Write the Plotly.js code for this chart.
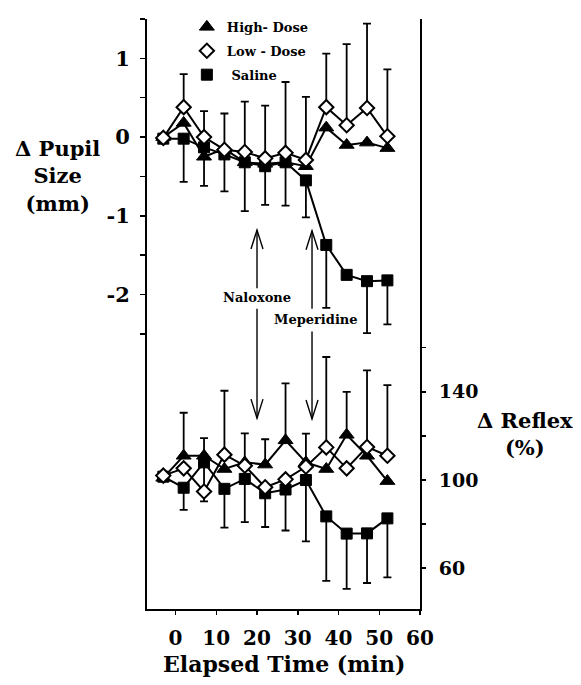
<!DOCTYPE html>
<html>
<head>
<meta charset="utf-8">
<script src="https://cdn.plot.ly/plotly-3.0.1.min.js"></script>
<style>html,body{margin:0;padding:0;background:#fff;}#chart{width:581px;height:685px;}</style>
</head>
<body>
<div id="chart"></div>
<script>
// ---- data ----
var times = [-3, 2, 7, 12, 17, 22, 27, 32, 37, 42, 47, 52];

// Delta pupil size (mm)
var pupilHigh   = [0.00, 0.18, -0.25, -0.15, -0.32, -0.34, -0.32, -0.37, 0.12, -0.10, -0.07, -0.14];
var pupilLow    = [-0.01, 0.38, 0.00, -0.16, -0.19, -0.27, -0.20, -0.29, 0.38, 0.15, 0.37, 0.01];
var pupilSaline = [-0.02, -0.02, -0.13, -0.22, -0.32, -0.37, -0.32, -0.55, -1.37, -1.75, -1.83, -1.82];
var pupilLowErrUp      = [null, 0.42, 0.33, 0.46, 0.64, 0.67, 0.90, 0.80, 0.68, 1.03, 1.07, 0.85];
var pupilSalineErrDown = [null, 0.55, 0.49, 0.47, 0.62, 0.49, 0.55, 0.47, 0.80, null, 0.66, 0.56];

// Delta reflex (%)
var reflexHigh   = [101, 111, 111, 105, 108, 107, 118, 108, 105, 120.5, 111, 99.5];
var reflexLow    = [102, 105.3, 94.8, 111.5, 106.5, 96.7, 100.3, 106, 114.8, 105.3, 115, 111];
var reflexSaline = [101.5, 96.5, 108, 96, 100.5, 94, 95.7, 100, 83.5, 75.7, 75.8, 82.6];
var reflexHighErrUp     = [null, 19.5, 8, null, null, 11.5, 25.8, null, null, 19.5, null, null];
var reflexLowErrUp      = [null, null, null, 29, 14.7, null, null, 15, 41, null, 34.7, 32];
var reflexSalineErrDown = [null, 10, 17.7, 17.6, 19.6, 15.3, 18.6, 27.8, 29.2, 25.1, 22.5, 26.8];

var seriesNames = ['High- Dose', 'Low - Dose', '\u00a0Saline'];
var xTickVals = [0, 10, 20, 30, 40, 50, 60];
var pupilTickVals = [1.5, 1, 0.5, 0, -0.5, -1, -1.5, -2, -2.5];
var pupilTickText = ['', '1', '', '0', '', '-1', '', '-2', ''];
var reflexTickVals = [160, 140, 120, 100, 80, 60];
var reflexTickText = ['', '140', '', '100', '', '60'];
var naloxoneTime = 20;
var meperidineTime = 33.5;

// ---- styling ----
var FONT = 'DejaVu Serif';
var K = '#000';
function zeros(a){ return a.map(function(){ return 0; }); }
function errUp(a){ return {type:'data', symmetric:false, array:a, arrayminus:zeros(a), color:K, thickness:1.8, width:4}; }
function errDown(a){ return {type:'data', symmetric:false, array:zeros(a), arrayminus:a, color:K, thickness:1.8, width:4}; }

var triM = {symbol:'triangle-up', size:13, color:K, line:{color:K, width:1}};
var diaM = {symbol:'diamond', size:11, color:'#fff', line:{color:K, width:2}};
var sqM  = {symbol:'square', size:11, color:K, line:{color:K, width:1}};
var ln = {color:K, width:2};

var traces = [
  // pupil panel
  {x:times, y:pupilSaline, yaxis:'y', mode:'lines+markers', line:ln, marker:sqM, error_y:errDown(pupilSalineErrDown), showlegend:false, cliponaxis:false},
  {x:times, y:pupilHigh, yaxis:'y', mode:'lines+markers', line:ln, marker:triM, showlegend:false, cliponaxis:false},
  {x:times, y:pupilLow, yaxis:'y', mode:'lines+markers', line:ln, marker:diaM, error_y:errUp(pupilLowErrUp), showlegend:false, cliponaxis:false},
  // reflex panel
  {x:times, y:reflexSaline, yaxis:'y2', mode:'lines+markers', line:ln, marker:sqM, error_y:errDown(reflexSalineErrDown), showlegend:false, cliponaxis:false},
  {x:times, y:reflexHigh, yaxis:'y2', mode:'lines+markers', line:ln, marker:triM, error_y:errUp(reflexHighErrUp), showlegend:false, cliponaxis:false},
  {x:times, y:reflexLow, yaxis:'y2', mode:'lines+markers', line:ln, marker:diaM, error_y:errUp(reflexLowErrUp), showlegend:false, cliponaxis:false},
  // legend entries (symbols only)
  {x:[null], y:[null], yaxis:'y', mode:'markers', marker:triM, name:seriesNames[0], legendgroup:'a'},
  {x:[null], y:[null], yaxis:'y', mode:'markers', marker:diaM, name:seriesNames[1], legendgroup:'b'},
  {x:[null], y:[null], yaxis:'y', mode:'markers', marker:sqM, name:seriesNames[2], legendgroup:'c'}
];

function shaft(xv, y0, y1){ return {type:'line', xref:'x', yref:'y', x0:xv, x1:xv, y0:y0, y1:y1, line:{color:K, width:1.4}}; }
function head(xv, yv, up){
  return {type:'path', xref:'x', yref:'y', xsizemode:'pixel', ysizemode:'pixel', xanchor:xv, yanchor:yv,
    path: up ? 'M-6,-19L0,0L6,-19' : 'M-6,19L0,0L6,19', line:{color:K, width:1.4}};
}
var shapes = [
  shaft(naloxoneTime, -1.18, -1.92), head(naloxoneTime, -1.18, true),
  shaft(naloxoneTime, -2.18, -3.57), head(naloxoneTime, -3.57, false),
  shaft(meperidineTime, -1.19, -2.18), head(meperidineTime, -1.19, true),
  shaft(meperidineTime, -2.47, -3.58), head(meperidineTime, -3.58, false)
];

function ann(text, x, y, size, xref, yref){
  return {text:text, x:x, y:y, xref:xref||'paper', yref:yref||'paper', showarrow:false,
    xanchor:'center', yanchor:'middle', align:'center', font:{family:FONT, size:size, color:K, weight:'bold'}};
}
var annotations = [
  ann('Naloxone', naloxoneTime, -2.04, 13, 'x', 'y'),
  ann('Meperidine', 34.5, -2.32, 13, 'x', 'y'),
  ann('\u0394 Pupil<br>Size<br>(mm)', -0.328, 0.7331, 21),
  ann('\u0394 Reflex<br>(%)', 1.384, 0.2965, 21),
  ann('Elapsed Time (min)', 0.50, -0.093, 22)
];

var layout = {
  width:581, height:685,
  margin:{l:147, r:161, t:17, b:76, pad:0},
  paper_bgcolor:'#fff', plot_bgcolor:'#fff',
  showlegend:true,
  legend:{x:0.146, y:1.012, xanchor:'left', yanchor:'top', bgcolor:'rgba(0,0,0,0)', tracegroupgap:4,
    font:{family:FONT, size:13, color:K, weight:'bold'}},
  xaxis:{range:[-7, 60], showline:true, linecolor:K, linewidth:2, ticks:'outside', ticklen:4, tickwidth:1.5, tickcolor:K,
    tickvals:xTickVals, showgrid:false, zeroline:false, ticklabelstandoff:6,
    tickfont:{family:FONT, size:20, color:K, weight:'bold'}},
  yaxis:{range:[-5.994, 1.5], showline:true, linecolor:K, linewidth:2, ticks:'outside', ticklen:5, tickwidth:1.5, tickcolor:K,
    tickvals:pupilTickVals, ticktext:pupilTickText, showgrid:false, zeroline:false, ticklabelstandoff:6,
    tickfont:{family:FONT, size:21, color:K, weight:'bold'}},
  yaxis2:{range:[41.5, 309.1], overlaying:'y', side:'right', showline:true, linecolor:K, linewidth:2, ticks:'outside', ticklen:4, tickwidth:1.5, tickcolor:K,
    tickvals:reflexTickVals, ticktext:reflexTickText, showgrid:false, zeroline:false, ticklabelstandoff:9,
    tickfont:{family:FONT, size:19, color:K, weight:'bold'}},
  shapes:shapes,
  annotations:annotations
};

Plotly.newPlot('chart', traces, layout, {displayModeBar:false, staticPlot:true});
</script>
</body>
</html>
